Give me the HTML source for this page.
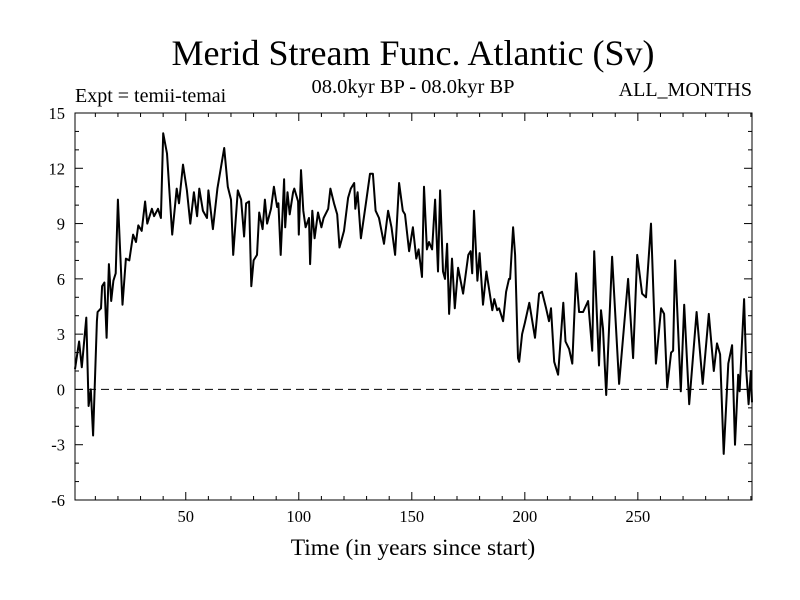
<!DOCTYPE html>
<html><head><meta charset="utf-8"><style>
body{margin:0;background:#fff}
svg{display:block;font-family:"Liberation Serif",serif}
</style></head><body>
<svg id="chart" width="800" height="600">
<text x="413" y="65" font-size="36" text-anchor="middle">Merid Stream Func. Atlantic (Sv)</text>
<text x="75" y="102" font-size="20">Expt = temii-temai</text>
<text x="413" y="93" font-size="20.5" text-anchor="middle">08.0kyr BP - 08.0kyr BP</text>
<text x="752" y="96" font-size="20" text-anchor="end">ALL_MONTHS</text>
<text x="413" y="555" font-size="23.5" text-anchor="middle">Time (in years since start)</text>
<g id="axes"></g>
<g id="plot"></g>
<rect x="75" y="113" width="677" height="387" fill="none" stroke="#000" stroke-width="1"/>
</svg>
<script>
const years=[1,2.8,4,6,7,8,9,10.7,11,12.5,13,14,15,16,17,18,19,20,22,23.5,25,26.7,28,29,30.5,32,33,35,36,37.7,39,40,41.7,44,46,47,48.8,50.5,52,53.6,55,56,57.6,59.4,60,62,64,67,68.6,70,71,73,74.5,75.8,76.7,78,79,80,81.5,82.5,84,85,86,87.7,89,90.4,91,92,93.5,94,95,96,97.5,98,99.7,100,101,102,103,104.5,105,106,107,108.5,110,111,113,114,115.6,117,118,120,121.8,123,124.5,125,126,127.5,129.7,131.5,132.8,134,135.5,137.7,139.5,141,142.6,144.4,146,147,148.8,150.5,152,153,154.5,155.4,156.7,157.6,159,160.3,161.6,162.5,163.8,164.7,165.6,166.5,167.8,169,170.5,172.7,175,176,176.7,177.5,179,180,181.5,183,185.6,186.5,187.8,188.6,190.4,191.7,193,193.5,194.8,195.7,197,197.5,198.8,200,202,204.5,206.3,207.6,209.4,210.7,211.6,213,214.7,217,218,219.6,221,222.7,224,225.8,228,229.8,230.7,232.8,233.7,234.6,236,238.6,241.7,245.7,247.9,249.7,251.9,253.6,255.8,258,260.3,261.6,263,264.7,265.6,266.5,269,270.5,272.7,276,278.7,281.4,283.6,285,286.4,288,290,291.7,293,294.4,295,297,298,299,300,301];
const values=[1.1,2.6,1.2,3.9,-0.9,0,-2.5,3.7,4.2,4.4,5.6,5.8,2.8,6.8,4.8,5.9,6.3,10.3,4.6,7.1,7.0,8.4,8.0,8.9,8.6,10.2,9.0,9.8,9.4,9.8,9.3,13.9,12.8,8.4,10.9,10.1,12.2,10.8,9.0,10.7,9.4,10.9,9.7,9.3,10.8,8.7,10.9,13.1,11.0,10.3,7.3,10.8,10.3,8.3,10.1,10.2,5.6,7.0,7.3,9.6,8.7,10.3,9.0,9.8,11.0,9.9,10.1,7.3,11.4,8.8,10.7,9.5,10.7,10.9,10.2,8.4,11.9,9.7,8.8,9.3,6.8,9.7,8.2,9.6,8.8,9.3,9.8,10.9,10.1,9.5,7.7,8.6,10.4,10.9,11.2,9.8,10.7,8.2,10.1,11.7,11.7,9.7,9.3,7.9,9.7,8.8,7.3,11.2,9.7,9.5,7.5,8.8,7.1,7.6,6.1,11.0,7.6,8.0,7.6,10.3,6.4,10.8,6.4,6.0,7.9,4.1,7.1,4.4,6.6,5.2,7.3,7.5,6.3,9.7,5.9,7.4,4.6,6.4,4.3,4.9,4.3,4.4,3.7,5.3,6.0,6.0,8.8,7.3,1.7,1.5,3.0,3.6,4.7,2.8,5.2,5.3,4.4,3.7,4.4,1.5,0.8,4.7,2.6,2.2,1.4,6.3,4.2,4.2,4.8,2.1,7.5,1.3,4.3,3.3,-0.3,7.2,0.3,6.0,1.7,7.3,5.2,5.0,9.0,1.4,4.4,4.1,0.1,2.0,2.1,7.0,-0.1,4.6,-0.8,4.2,0.3,4.1,1.0,2.5,1.9,-3.5,1.4,2.4,-3.0,0.8,-0.1,4.9,1.0,-0.8,1.0,-0.7];
const yTicks=[-6,-3,0,3,6,9,12,15];
const xTicks=[50,100,150,200,250];
const X0=75,X1=752,Y0=500,Y1=113;
const xMin=1,xMax=300.5,yMin=-6,yMax=15;
function sx(v){return X0+(v-xMin)/(xMax-xMin)*(X1-X0);}
function sy(v){return Y0-(v-yMin)/(yMax-yMin)*(Y0-Y1);}
const NS='http://www.w3.org/2000/svg';
const axes=document.getElementById('axes'),plot=document.getElementById('plot');
function mk(tag,attrs,parent){const e=document.createElementNS(NS,tag);for(const k in attrs)e.setAttribute(k,attrs[k]);parent.appendChild(e);return e;}
for(let v=yMin;v<=yMax;v++){
  const major=yTicks.includes(v);const L=major?8:4;const y=sy(v);
  const t1=mk('line',{x1:X0,x2:X0+L,y1:y,y2:y,stroke:'#000'},axes);
  
  
  const t2=mk('line',{x1:X1,x2:X1-L,y1:y,y2:y,stroke:'#000'},axes);
  
  
}
yTicks.forEach(v=>{
  const t=mk('text',{x:X0-10,y:sy(v)+6,'font-size':16.5,'text-anchor':'end'},axes);t.textContent=v;
  
  
});
for(let v=10;v<=300;v+=10){
  const major=xTicks.includes(v);const L=major?8:4;const x=sx(v);
  const t1=mk('line',{x1:x,x2:x,y1:Y0,y2:Y0-L,stroke:'#000'},axes);
  
  
  const t2=mk('line',{x1:x,x2:x,y1:Y1,y2:Y1+L,stroke:'#000'},axes);
  
  
}
xTicks.forEach(v=>{
  const t=mk('text',{x:sx(v),y:Y0+22,'font-size':16.5,'text-anchor':'middle'},axes);t.textContent=v;
  
  
});
const zl=mk('line',{x1:X0,x2:X1,y1:sy(0),y2:sy(0),stroke:'#000','stroke-dasharray':'8,5','stroke-width':1},plot);


const pts=years.map((y,i)=>sx(Math.min(y,xMax)).toFixed(1)+','+sy(values[i]).toFixed(1)).join(' ');
const pl=mk('polyline',{points:pts,fill:'none',stroke:'#000','stroke-width':2,'stroke-linejoin':'round'},plot);


</script>
</body></html>
